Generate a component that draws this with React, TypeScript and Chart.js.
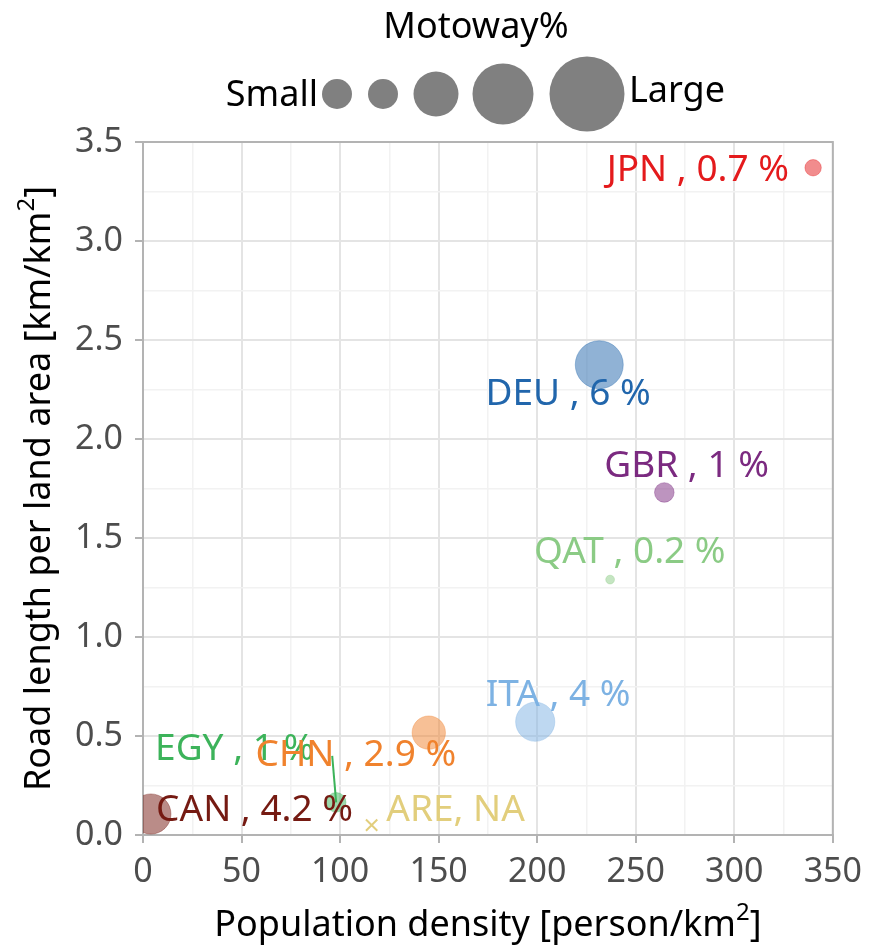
import React, { useEffect, useRef } from "react";
import { Chart, registerables } from "chart.js";

Chart.register(...registerables);

// ---------- data ----------
const countries = ["JPN", "DEU", "GBR", "QAT", "ITA", "EGY", "CHN", "CAN", "ARE"];
const popDensity = [340, 231.5, 264.5, 237, 199, 98, 145, 4, 116];
const roadDensity = [3.37, 2.375, 1.73, 1.29, 0.572, 0.165, 0.517, 0.106, 0.05];
const motorwayPct: (number | null)[] = [0.7, 6, 1, 0.2, 4, 1, 2.9, 4.2, null];
// repelled label positions (data units)
const labelX = [281.5, 215.7, 275.8, 247, 210.6, 46.5, 108, 56.6, 158.6];
const labelY = [3.355, 2.225, 1.86, 1.425, 0.705, 0.43, 0.40, 0.125, 0.125];
// leader segment start for labels that have one (data units), null = none
const leaderFromX: (number | null)[] = [null, null, null, null, null, 96, null, null, null];
const leaderFromY: (number | null)[] = [null, null, null, null, null, 0.40, null, null, null];

const xTicksMajor = 50;
const yTicksMajor = 0.5;

// ---------- style ----------
const textColors = ["#E41A1C", "#2166AC", "#7B2A80", "#8BCB85", "#7DB2E3", "#3CB35A", "#F0822D", "#751A12", "#E2CE7C"];
const FONT = "'Noto Sans', 'Open Sans', sans-serif";
const LEGEND_RADII = [15, 15, 22.5, 30.5, 37.5];
const LEGEND_X = [337, 383, 436, 503, 587];

function hexA(hex: string, a: number) {
  const n = parseInt(hex.slice(1), 16);
  return `rgba(${(n >> 16) & 255},${(n >> 8) & 255},${n & 255},${a})`;
}

function bubbleR(p: number | null) {
  return p == null ? 8 : 9.8 * Math.sqrt(p);
}

const isMajor = (v: number, step: number) => Math.abs(v / step - Math.round(v / step)) < 1e-6;

const overlayPlugin = {
  id: "overlay",
  afterDraw(chart: any) {
    const { ctx, chartArea: ca, scales } = chart;
    const xs = scales.x;
    const ys = scales.y;
    ctx.save();
    // frame top/right
    ctx.strokeStyle = "#b3b3b3";
    ctx.lineWidth = 2;
    ctx.beginPath();
    ctx.moveTo(ca.left, ca.top);
    ctx.lineTo(ca.right, ca.top);
    ctx.lineTo(ca.right, ca.bottom);
    ctx.stroke();

    // leader lines
    countries.forEach((c, i) => {
      const fx = leaderFromX[i];
      const fy = leaderFromY[i];
      if (fx == null || fy == null) return;
      ctx.strokeStyle = textColors[i];
      ctx.lineWidth = 2;
      ctx.beginPath();
      ctx.moveTo(xs.getPixelForValue(fx), ys.getPixelForValue(fy));
      ctx.lineTo(xs.getPixelForValue(popDensity[i]), ys.getPixelForValue(roadDensity[i]));
      ctx.stroke();
    });

    // labels
    ctx.font = `37px ${FONT}`;
    ctx.textAlign = "center";
    ctx.textBaseline = "middle";
    countries.forEach((c, i) => {
      const p = motorwayPct[i];
      const txt = p == null ? `${c}, NA` : `${c} , ${p} %`;
      ctx.fillStyle = textColors[i];
      ctx.fillText(txt, xs.getPixelForValue(labelX[i]), ys.getPixelForValue(labelY[i]));
    });

    // legend
    ctx.fillStyle = "#000";
    ctx.font = `36px ${FONT}`;
    ctx.textAlign = "center";
    ctx.fillText("Motoway%", 476, 28);
    ctx.textAlign = "right";
    ctx.fillText("Small", 318, 96);
    ctx.textAlign = "left";
    ctx.fillText("Large", 629, 92);
    ctx.fillStyle = "#808080";
    LEGEND_RADII.forEach((r, i) => {
      ctx.beginPath();
      ctx.arc(LEGEND_X[i], 94, r, 0, Math.PI * 2);
      ctx.fill();
    });

    // axis titles with superscript
    const drawSup = (pre: string, sup: string, post: string, cx: number, cy: number, rot: number) => {
      ctx.save();
      ctx.translate(cx, cy);
      ctx.rotate(rot);
      ctx.fillStyle = "#000";
      ctx.textBaseline = "alphabetic";
      ctx.textAlign = "left";
      ctx.font = `36px ${FONT}`;
      const w1 = ctx.measureText(pre).width;
      const w3 = ctx.measureText(post).width;
      ctx.font = `24px ${FONT}`;
      const w2 = ctx.measureText(sup).width;
      const total = w1 + w2 + w3;
      let x = -total / 2;
      ctx.font = `36px ${FONT}`;
      ctx.fillText(pre, x, 12);
      x += w1;
      ctx.font = `24px ${FONT}`;
      ctx.fillText(sup, x, -4);
      x += w2;
      ctx.font = `36px ${FONT}`;
      ctx.fillText(post, x, 12);
      ctx.restore();
    };
    drawSup("Population density [person/km", "2", "]", (ca.left + ca.right) / 2, 924, 0);
    drawSup("Road length per land area [km/km", "2", "]", 38, (ca.top + ca.bottom) / 2, -Math.PI / 2);
    ctx.restore();
  },
};

export default function App() {
  const ref = useRef<HTMLCanvasElement | null>(null);
  useEffect(() => {
    document.body.style.margin = "0";
    const el = ref.current;
    if (!el) return;
    const data = countries.map((c, i) => ({ x: popDensity[i], y: roadDensity[i], r: bubbleR(motorwayPct[i]) }));
    const chart = new Chart(el, {
      type: "bubble",
      data: {
        datasets: [
          {
            data,
            backgroundColor: countries.map((c, i) => (motorwayPct[i] == null ? textColors[i] : hexA(textColors[i], 0.5))),
            borderColor: countries.map((c, i) => (motorwayPct[i] == null ? textColors[i] : hexA(textColors[i], 0.35))),
            borderWidth: countries.map((c, i) => (motorwayPct[i] == null ? 2 : 1)),
            pointStyle: countries.map((c, i) => (motorwayPct[i] == null ? "crossRot" : "circle")) as any,
          },
        ],
      },
      options: {
        animation: false,
        responsive: false,
        maintainAspectRatio: false,
        layout: { padding: { top: 142, right: 33, left: 0, bottom: 0 } },
        plugins: { legend: { display: false }, tooltip: { enabled: false } },
        scales: {
          x: {
            type: "linear",
            min: 0,
            max: 350,
            afterFit: (s: any) => {
              s.height = 114;
            },
            ticks: {
              stepSize: 25,
              autoSkip: false,
              maxRotation: 0,
              padding: 9,
              color: "#4d4d4d",
              font: { family: FONT, size: 34 },
              callback: (v: any) => (isMajor(Number(v), xTicksMajor) ? String(v) : ""),
            },
            grid: {
              color: (c: any) => (c.tick && isMajor(c.tick.value, xTicksMajor) ? "#e4e4e4" : "#f2f2f2"),
              lineWidth: (c: any) => (c.tick && isMajor(c.tick.value, xTicksMajor) ? 2 : 1.5),
              tickColor: (c: any) => (c.tick && isMajor(c.tick.value, xTicksMajor) ? "#b3b3b3" : "rgba(0,0,0,0)"),
              tickLength: 8,
              tickWidth: 2,
            },
            border: { display: true, color: "#b3b3b3", width: 2 },
          },
          y: {
            type: "linear",
            min: 0,
            max: 3.5,
            afterFit: (s: any) => {
              s.width = 143;
            },
            ticks: {
              stepSize: 0.25,
              autoSkip: false,
              padding: 12,
              color: "#4d4d4d",
              font: { family: FONT, size: 34 },
              callback: (v: any) => (isMajor(Number(v), yTicksMajor) ? Number(v).toFixed(1) : ""),
            },
            grid: {
              color: (c: any) => (c.tick && isMajor(c.tick.value, yTicksMajor) ? "#e4e4e4" : "#f2f2f2"),
              lineWidth: (c: any) => (c.tick && isMajor(c.tick.value, yTicksMajor) ? 2 : 1.5),
              tickColor: (c: any) => (c.tick && isMajor(c.tick.value, yTicksMajor) ? "#b3b3b3" : "rgba(0,0,0,0)"),
              tickLength: 8,
              tickWidth: 2,
            },
            border: { display: true, color: "#b3b3b3", width: 2 },
          },
        },
      },
      plugins: [overlayPlugin],
    });
    return () => chart.destroy();
  }, []);
  return (
    <div style={{ width: 871, height: 949, overflow: "hidden", background: "#fff" }}>
      <canvas ref={ref} width={871} height={949} style={{ display: "block", width: 871, height: 949 }} />
    </div>
  );
}
